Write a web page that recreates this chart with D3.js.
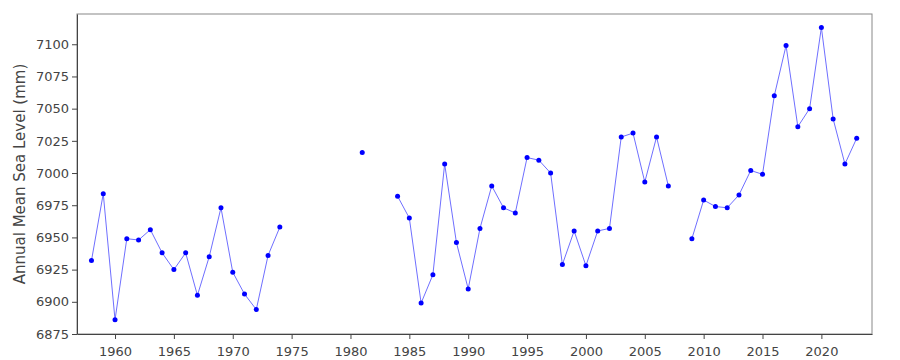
<!DOCTYPE html>
<html>
<head>
<meta charset="utf-8">
<script src="https://cdn.jsdelivr.net/npm/d3@7"></script>
<style>
  body { margin: 0; background: #fff; }
  text { font-family: "DejaVu Sans", sans-serif; fill: #444; }
</style>
</head>
<body>
<div id="chart"></div>
<script>
// chart data, one value per year, null where the year is missing
var years = d3.range(1958, 2024);
var seaLevel = [
    6932, 6984, 6886, 6949, 6948, 6956, 6938, 6925, 6938, 6905, // 1958-1967
    6935, 6973, 6923, 6906, 6894, 6936, 6958, null, null, null, // 1968-1977
    null, null, null, 7016, null, null, 6982, 6965, 6899, 6921, // 1978-1987
    7007, 6946, 6910, 6957, 6990, 6973, 6969, 7012, 7010, 7000, // 1988-1997
    6929, 6955, 6928, 6955, 6957, 7028, 7031, 6993, 7028, 6990, // 1998-2007
    null, 6949, 6979, 6974, 6973, 6983, 7002, 6999, 7060, 7099, // 2008-2017
    7036, 7050, 7113, 7042, 7007, 7027                          // 2018-2023
];
var xTicks = [1960, 1965, 1970, 1975, 1980, 1985, 1990, 1995, 2000, 2005, 2010, 2015, 2020];
var yTicks = [6875, 6900, 6925, 6950, 6975, 7000, 7025, 7050, 7075, 7100];
var yLabel = "Annual Mean Sea Level (mm)";

var svgWidth = 900;
var svgHeight = 360;
var margin = {top: 14, right: 28, bottom: 26, left: 77};
var width = svgWidth - margin.left - margin.right;
var height = svgHeight - margin.top - margin.bottom;

var data = years.map((y, i) => ({year: y, value: seaLevel[i]}));

var svg = d3.select("#chart")
    .append("svg")
    .attr("width", svgWidth)
    .attr("height", svgHeight);
var g = svg.append("g")
    .attr("transform", `translate(${margin.left}, ${margin.top})`);

var xScale = d3.scaleLinear()
    .domain([1956.77, 2024.3])
    .range([0, width]);
var yScale = d3.scaleLinear()
    .domain([6875, 7123.5])
    .range([height, 0]);

// frame
g.append("rect")
    .attr("width", width)
    .attr("height", height)
    .attr("fill", "none")
    .attr("stroke", "#888");

var xAxis = g.append("g")
    .attr("transform", `translate(0, ${height})`)
    .call(d3.axisBottom(xScale).tickValues(xTicks).tickFormat(d3.format("d")).tickSize(5).tickSizeOuter(0));
var yAxis = g.append("g")
    .call(d3.axisLeft(yScale).tickValues(yTicks).tickFormat(d3.format("d")).tickSize(5).tickSizeOuter(0));

[xAxis, yAxis].forEach(a => {
    a.select(".domain").attr("stroke", "#444");
    a.selectAll(".tick line").attr("stroke", "#444");
    a.selectAll(".tick text")
        .attr("font-size", 13)
        .attr("font-family", "DejaVu Sans, sans-serif")
        .attr("fill", "#4a4a4a");
});
xAxis.selectAll(".tick text").attr("dy", "1.05em");

g.append("text")
    .attr("transform", `translate(${20 - margin.left}, ${height / 2}) rotate(-90)`)
    .attr("text-anchor", "middle")
    .attr("dominant-baseline", "middle")
    .attr("font-size", 15)
    .text(yLabel);

var line = d3.line()
    .defined(d => d.value !== null)
    .x(d => xScale(d.year))
    .y(d => yScale(d.value));

g.append("path")
    .datum(data)
    .attr("d", line)
    .attr("fill", "none")
    .attr("stroke", "#6f6fff")
    .attr("stroke-width", 1);

g.selectAll("circle")
    .data(data.filter(d => d.value !== null))
    .enter()
    .append("circle")
    .attr("cx", d => xScale(d.year))
    .attr("cy", d => yScale(d.value))
    .attr("r", 2.5)
    .attr("fill", "#0000ff");
</script>
</body>
</html>
